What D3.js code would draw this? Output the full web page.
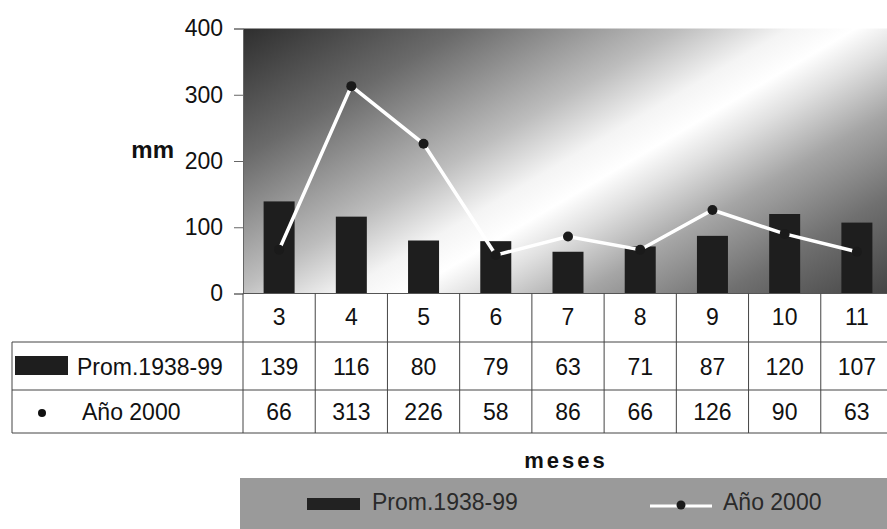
<!DOCTYPE html>
<html>
<head>
<meta charset="utf-8">
<script src="https://cdn.jsdelivr.net/npm/d3@7"></script>
<style>
  html, body { margin: 0; padding: 0; background: #ffffff; }
  svg { display: block; font-family: "Liberation Sans", Arial, sans-serif; }
</style>
</head>
<body>
<svg id="chart" width="887" height="529"></svg>
<script>
// Monthly rainfall: long-term mean vs. year 2000
const months = ["3", "4", "5", "6", "7", "8", "9", "10", "11"];
const promedio = [139, 116, 80, 79, 63, 71, 87, 120, 107];
const anio2000 = [66, 313, 226, 58, 86, 66, 126, 90, 63];
const yTicks = [0, 100, 200, 300, 400];
const seriesNames = ["Prom.1938-99", "Año 2000"];
const yLabel = "mm";
const xLabel = "meses";

const svg = d3.select("#chart");

const plot = { left: 243, right: 893, top: 28.5, bottom: 293.5 };
const table = { left: 12, headerBottom: 342, row1Bottom: 390, row2Bottom: 433 };

const x = d3.scaleBand().domain(months).range([plot.left, plot.right]).paddingInner(0).paddingOuter(0);
const y = d3.scaleLinear().domain([0, 400]).range([plot.bottom, plot.top]);

// Diagonal shaded background of the plot area
const defs = svg.append("defs");
const grad = defs.append("linearGradient")
  .attr("id", "bgGrad")
  .attr("gradientUnits", "userSpaceOnUse")
  .attr("x1", 243).attr("y1", 28)
  .attr("x2", 525).attr("y2", 507);
[
  [0, "#2e2e2e"], [0.2, "#6a6a6a"], [0.4, "#bdbdbd"], [0.5, "#f4f4f4"],
  [0.56, "#ffffff"], [0.62, "#e0e0e0"], [0.72, "#a5a5a5"], [0.85, "#707070"], [1, "#444444"]
].forEach(([o, c]) => grad.append("stop").attr("offset", o).attr("stop-color", c));

svg.append("rect")
  .attr("x", plot.left).attr("y", plot.top)
  .attr("width", plot.right - plot.left).attr("height", plot.bottom - plot.top)
  .attr("fill", "url(#bgGrad)");

// Y axis
const yAxis = d3.axisLeft(y).tickValues(yTicks).tickSize(9).tickPadding(11);
const gy = svg.append("g").attr("transform", `translate(${plot.left},0)`).call(yAxis);
gy.select(".domain").attr("stroke", "#666").attr("stroke-width", 1);
gy.selectAll(".tick line").attr("stroke", "#666");
gy.selectAll(".tick text").attr("font-size", 23).attr("fill", "#111")
  .attr("font-family", "'Liberation Sans', Arial, sans-serif");

svg.append("text")
  .attr("x", 174).attr("y", 158)
  .attr("text-anchor", "end")
  .attr("font-size", 24).attr("font-weight", "bold").attr("fill", "#111")
  .text(yLabel);

// Bars: long-term mean
const barW = 31;
svg.append("g").selectAll("rect")
  .data(promedio)
  .join("rect")
  .attr("x", (d, i) => x(months[i]) + x.bandwidth() / 2 - barW / 2)
  .attr("y", d => y(d))
  .attr("width", barW)
  .attr("height", d => y(0) - y(d))
  .attr("fill", "#1e1e1e");

// Line: year 2000
const line = d3.line()
  .x((d, i) => x(months[i]) + x.bandwidth() / 2)
  .y(d => y(d));
svg.append("path")
  .datum(anio2000)
  .attr("d", line)
  .attr("fill", "none")
  .attr("stroke", "#ffffff")
  .attr("stroke-width", 3.5);
svg.append("g").selectAll("circle")
  .data(anio2000)
  .join("circle")
  .attr("cx", (d, i) => x(months[i]) + x.bandwidth() / 2)
  .attr("cy", d => y(d))
  .attr("r", 5)
  .attr("fill", "#1a1a1a");

// X axis baseline
svg.append("line")
  .attr("x1", plot.left).attr("x2", plot.right)
  .attr("y1", plot.bottom).attr("y2", plot.bottom)
  .attr("stroke", "#555").attr("stroke-width", 1);

// Data table grid
const grid = svg.append("g").attr("stroke", "#444").attr("stroke-width", 1).attr("fill", "none");
grid.append("line").attr("x1", table.left).attr("x2", plot.right)
  .attr("y1", table.headerBottom).attr("y2", table.headerBottom);
grid.append("line").attr("x1", table.left).attr("x2", plot.right)
  .attr("y1", table.row1Bottom).attr("y2", table.row1Bottom);
grid.append("line").attr("x1", table.left).attr("x2", plot.right)
  .attr("y1", table.row2Bottom).attr("y2", table.row2Bottom);
grid.append("line").attr("x1", table.left).attr("x2", table.left)
  .attr("y1", table.headerBottom).attr("y2", table.row2Bottom);
grid.selectAll(".vcol")
  .data(months.concat(["end"]))
  .join("line")
  .attr("class", "vcol")
  .attr("x1", (d, i) => plot.left + i * x.step())
  .attr("x2", (d, i) => plot.left + i * x.step())
  .attr("y1", plot.bottom).attr("y2", table.row2Bottom);

const tableText = svg.append("g").attr("font-size", 23).attr("fill", "#111").attr("text-anchor", "middle");
tableText.selectAll(".hdr").data(months).join("text")
  .attr("class", "hdr")
  .attr("x", d => x(d) + x.bandwidth() / 2).attr("y", 325)
  .text(d => d);
tableText.selectAll(".r1").data(promedio).join("text")
  .attr("class", "r1")
  .attr("x", (d, i) => x(months[i]) + x.bandwidth() / 2).attr("y", 375)
  .text(d => d);
tableText.selectAll(".r2").data(anio2000).join("text")
  .attr("class", "r2")
  .attr("x", (d, i) => x(months[i]) + x.bandwidth() / 2).attr("y", 420)
  .text(d => d);

// Row keys
svg.append("rect").attr("x", 15).attr("y", 356).attr("width", 53).attr("height", 19).attr("fill", "#1e1e1e");
svg.append("text").attr("x", 77).attr("y", 375).attr("font-size", 23).attr("fill", "#111").text(seriesNames[0]);
svg.append("circle").attr("cx", 42).attr("cy", 413).attr("r", 4).attr("fill", "#111");
svg.append("text").attr("x", 82).attr("y", 420).attr("font-size", 23).attr("fill", "#111").text(seriesNames[1]);

// Category axis title
svg.append("text")
  .attr("x", 566).attr("y", 468)
  .attr("text-anchor", "middle")
  .attr("font-size", 22).attr("font-weight", "bold").attr("letter-spacing", 3).attr("fill", "#111")
  .text(xLabel);

// Legend
const lg = svg.append("g");
lg.append("rect").attr("x", 240).attr("y", 478).attr("width", 660).attr("height", 60).attr("fill", "#9a9a9a");
lg.append("rect").attr("x", 307).attr("y", 498).attr("width", 53).attr("height", 12).attr("fill", "#222");
lg.append("text").attr("x", 372).attr("y", 510).attr("font-size", 23).attr("fill", "#2a2a2a").text(seriesNames[0]);
lg.append("line").attr("x1", 650).attr("x2", 712).attr("y1", 506).attr("y2", 506)
  .attr("stroke", "#ffffff").attr("stroke-width", 3);
lg.append("circle").attr("cx", 681).attr("cy", 505).attr("r", 4.5).attr("fill", "#1a1a1a");
lg.append("text").attr("x", 723).attr("y", 510).attr("font-size", 23).attr("fill", "#2a2a2a").text(seriesNames[1]);
</script>
</body>
</html>
